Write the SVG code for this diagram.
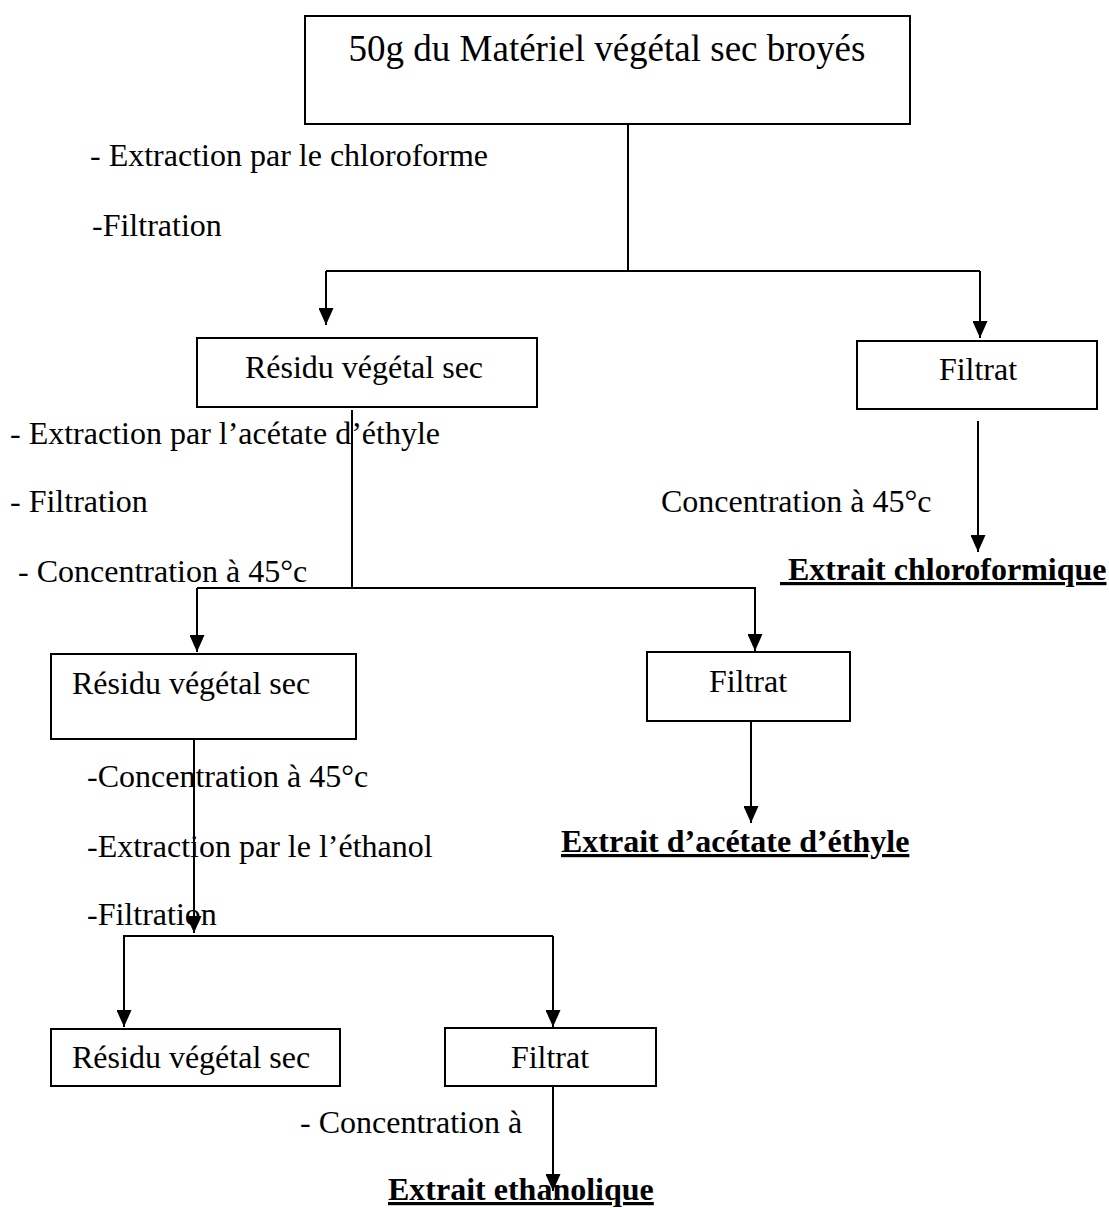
<svg xmlns="http://www.w3.org/2000/svg" width="1109" height="1208" viewBox="0 0 1109 1208">
<defs>
<style>
.box{fill:#fff;stroke:#000;stroke-width:2}
.t{font-family:"Liberation Serif","Times New Roman",serif;font-size:32px;fill:#000}
.title{font-size:37px}
.b{font-weight:bold;text-decoration:underline}
.c{text-anchor:middle}
.ln{fill:none;stroke:#000;stroke-width:2}
.ar{marker-end:url(#ah)}
</style>
<marker id="ah" markerUnits="userSpaceOnUse" markerWidth="17" markerHeight="15" refX="17" refY="7.5" orient="auto">
<path d="M0,0 L17,7.5 L0,15 z" fill="#000"/>
</marker>
</defs>
<rect width="1109" height="1208" fill="#fff"/>
<g id="connectors">
<path class="ln" d="M628,124 V271 M326,271 H980"/>
<path class="ln ar" d="M326,271 V325"/>
<path class="ln ar" d="M980,271 V338"/>
<path class="ln ar" d="M978,421 V552"/>
<path class="ln" d="M352,410 V588 M197,588 H756"/>
<path class="ln ar" d="M197,588 V652"/>
<path class="ln ar" d="M755,588 V651"/>
<path class="ln ar" d="M751,721 V823"/>
<path class="ln ar" d="M194,739 V933"/>
<path class="ln" d="M123,936 H553"/>
<path class="ln ar" d="M124,936 V1027"/>
<path class="ln ar" d="M553,936 V1027"/>
<path class="ln ar" d="M553,1086 V1191"/>
</g>
<g id="n-start">
<rect class="box" x="305" y="16" width="605" height="108"/>
<text class="t title c" x="607" y="61">50g du Matériel végétal sec broyés</text>
</g>
<g id="lbl1">
<text class="t" x="90" y="166">- Extraction par le chloroforme</text>
<text class="t" x="92" y="236">-Filtration</text>
</g>
<g id="n-residu1">
<rect class="box" x="197" y="338" width="340" height="69"/>
<text class="t c" x="364" y="378">Résidu végétal sec</text>
</g>
<g id="n-filtrat1">
<rect class="box" x="857" y="341" width="240" height="68"/>
<text class="t c" x="978" y="380">Filtrat</text>
</g>
<g id="lbl2">
<text class="t" x="10" y="444">- Extraction par l’acétate d’éthyle</text>
<text class="t" x="10" y="512">- Filtration</text>
<text class="t" x="18" y="582"> - Concentration à 45°c</text>
<text class="t" x="661" y="512">Concentration à 45°c</text>
</g>
<g id="n-extrait-chloro">
<text class="t b" x="780" y="580" xml:space="preserve"> Extrait chloroformique</text>
</g>
<g id="n-residu2">
<rect class="box" x="51" y="654" width="305" height="85"/>
<text class="t" x="72" y="694">Résidu végétal sec</text>
</g>
<g id="n-filtrat2">
<rect class="box" x="647" y="652" width="203" height="69"/>
<text class="t c" x="748" y="692">Filtrat</text>
</g>
<g id="n-extrait-acetate">
<text class="t b" x="561" y="852">Extrait d’acétate d’éthyle</text>
</g>
<g id="lbl3">
<text class="t" x="87" y="787">-Concentration à 45°c</text>
<text class="t" x="87" y="857">-Extraction par le l’éthanol</text>
<text class="t" x="87" y="925">-Filtration</text>
</g>
<g id="n-residu3">
<rect class="box" x="51" y="1029" width="289" height="57"/>
<text class="t" x="72" y="1068">Résidu végétal sec</text>
</g>
<g id="n-filtrat3">
<rect class="box" x="445" y="1028" width="211" height="58"/>
<text class="t c" x="550" y="1068">Filtrat</text>
</g>
<g id="lbl4">
<text class="t" x="300" y="1133">- Concentration à</text>
</g>
<g id="n-extrait-ethanol">
<text class="t b" x="388" y="1200">Extrait ethanolique</text>
</g>
</svg>
